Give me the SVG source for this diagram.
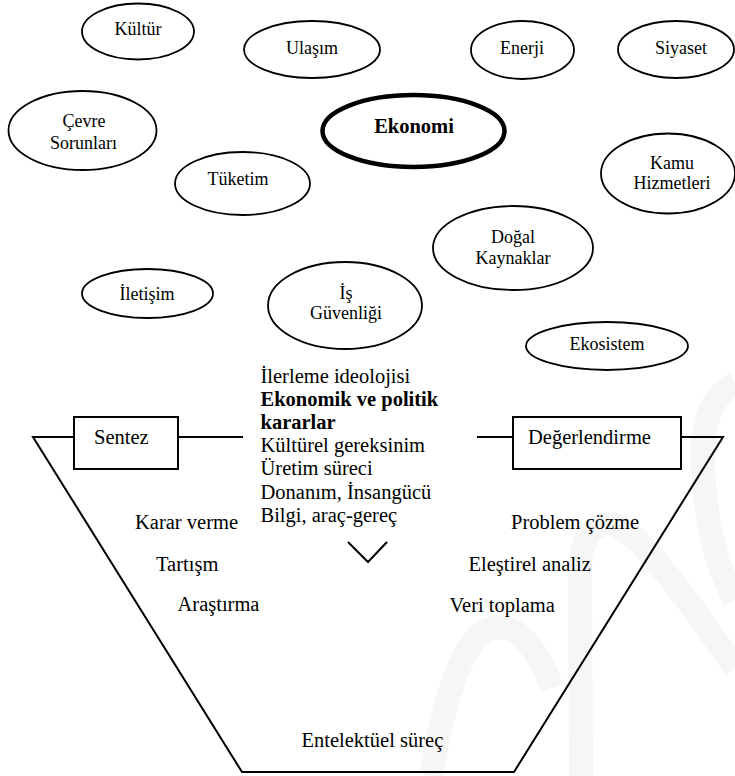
<svg xmlns="http://www.w3.org/2000/svg" width="735" height="776" viewBox="0 0 735 776">
  <style>
    .bg { fill: #ffffff; }
    .wm { fill: none; stroke: #f6f6f6; stroke-width: 24; stroke-linecap: butt; }
    .ell { fill: #ffffff; stroke: #000000; stroke-width: 1.8; }
    .ell-main { fill: #ffffff; stroke: #000000; stroke-width: 4.5; }
    .box { fill: #ffffff; stroke: #000000; stroke-width: 2; }
    .ln { fill: none; stroke: #000000; stroke-width: 2; stroke-linejoin: miter; }
    text { font-family: 'Liberation Serif', 'DejaVu Serif', serif; fill: #000000; }
    .lbl { font-size: 18px; text-anchor: middle; }
    .lbl-main { font-size: 20.5px; font-weight: bold; text-anchor: middle; }
    .txt { font-size: 20.5px; }
    .b { font-weight: bold; }
  </style>

  <rect class="bg" x="0" y="0" width="735" height="776"/>

  <!-- faint background mark -->
  <g id="backdrop">
    <path class="wm" d="M 581 776 L 580 575 Q 580 522 612 524 Q 640 528 735 668"/>
    <path class="wm" d="M 431 776 Q 455 636 492 628 Q 528 622 552 688"/>
    <path class="wm" d="M 735 384 Q 702 398 703 462 Q 705 545 735 600"/>
  </g>

  <!-- topic bubbles -->
  <g id="kultur">
    <ellipse class="ell" cx="138" cy="31.5" rx="56" ry="28"/>
    <text class="lbl" x="138" y="35">Kültür</text>
  </g>
  <g id="ulasim">
    <ellipse class="ell" cx="312" cy="49.5" rx="68" ry="28.5"/>
    <text class="lbl" x="312" y="53.5">Ulaşım</text>
  </g>
  <g id="enerji">
    <ellipse class="ell" cx="522.5" cy="50" rx="51.5" ry="29"/>
    <text class="lbl" x="522" y="54">Enerji</text>
  </g>
  <g id="siyaset">
    <ellipse class="ell" cx="676" cy="49.5" rx="58" ry="28.5"/>
    <text class="lbl" x="681" y="54">Siyaset</text>
  </g>
  <g id="cevre">
    <ellipse class="ell" cx="82.5" cy="130.5" rx="74" ry="39.5"/>
    <text class="lbl" x="84" y="126.5">Çevre</text>
    <text class="lbl" x="83.5" y="148.5">Sorunları</text>
  </g>
  <g id="ekonomi">
    <ellipse class="ell-main" cx="413.5" cy="131" rx="91" ry="36"/>
    <text class="lbl-main" x="414" y="132.5">Ekonomi</text>
  </g>
  <g id="tuketim">
    <ellipse class="ell" cx="242.5" cy="183.5" rx="67.5" ry="31.5"/>
    <text class="lbl" x="238" y="185">Tüketim</text>
  </g>
  <g id="kamu">
    <ellipse class="ell" cx="668" cy="173.5" rx="67" ry="40"/>
    <text class="lbl" x="672" y="168.5">Kamu</text>
    <text class="lbl" x="672" y="188.5">Hizmetleri</text>
  </g>
  <g id="dogal">
    <ellipse class="ell" cx="513" cy="248" rx="80" ry="42"/>
    <text class="lbl" x="513" y="242.5">Doğal</text>
    <text class="lbl" x="513" y="263.5">Kaynaklar</text>
  </g>
  <g id="iletisim">
    <ellipse class="ell" cx="147.5" cy="293.5" rx="65.5" ry="24.5"/>
    <text class="lbl" x="147" y="299.5">İletişim</text>
  </g>
  <g id="is-guvenligi">
    <ellipse class="ell" cx="345" cy="305.5" rx="77" ry="43.5"/>
    <text class="lbl" x="346" y="298.5">İş</text>
    <text class="lbl" x="346" y="318.5">Güvenliği</text>
  </g>
  <g id="ekosistem">
    <ellipse class="ell" cx="607" cy="346" rx="81" ry="24"/>
    <text class="lbl" x="607" y="349.5">Ekosistem</text>
  </g>

  <!-- connectors: funnel outline, side links and pointer -->
  <g id="connectors">
    <polyline class="ln" points="74,437 33,437 242,772 514,772 723,437 681,437"/>
    <line class="ln" x1="178" y1="437" x2="243" y2="437"/>
    <line class="ln" x1="477" y1="437" x2="513" y2="437"/>
    <polyline class="ln" points="348,542 368,562 387,542"/>
  </g>

  <g id="sentez">
    <rect class="box" x="74" y="417" width="104" height="52"/>
    <text class="txt" x="94" y="444">Sentez</text>
  </g>
  <g id="degerlendirme">
    <rect class="box" x="513" y="417" width="168" height="52"/>
    <text class="txt" x="528" y="444">Değerlendirme</text>
  </g>

  <!-- central list of inputs -->
  <g id="girdiler">
    <text class="txt" x="260.5" y="382.7">İlerleme ideolojisi</text>
    <text class="txt b" x="260.5" y="405.8">Ekonomik ve politik</text>
    <text class="txt b" x="260.5" y="428.6">kararlar</text>
    <text class="txt" x="260.5" y="452">Kültürel gereksinim</text>
    <text class="txt" x="260.5" y="475.2">Üretim süreci</text>
    <text class="txt" x="260.5" y="498.5">Donanım, İnsangücü</text>
    <text class="txt" x="260.5" y="521.8">Bilgi, araç-gereç</text>
  </g>

  <!-- process steps inside the funnel -->
  <g id="sol-adimlar">
    <text class="txt" x="135" y="528.5">Karar verme</text>
    <text class="txt" x="156" y="570.8">Tartışm</text>
    <text class="txt" x="177.5" y="611">Araştırma</text>
  </g>
  <g id="sag-adimlar">
    <text class="txt" x="511" y="528.5">Problem çözme</text>
    <text class="txt" x="468.5" y="571">Eleştirel analiz</text>
    <text class="txt" x="449.5" y="611.5">Veri toplama</text>
  </g>
  <g id="entelektuel">
    <text class="txt" x="301.5" y="746.7">Entelektüel süreç</text>
  </g>
</svg>
